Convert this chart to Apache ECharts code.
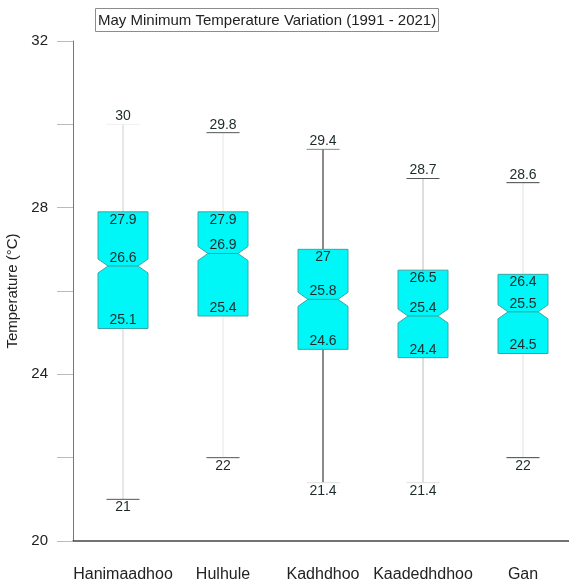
<!DOCTYPE html>
<html>
<head>
<meta charset="utf-8">
<script src="https://cdn.jsdelivr.net/npm/echarts@6/dist/echarts.min.js"></script>
<style>
  html, body { margin: 0; padding: 0; background: #fff; }
  #main { width: 569px; height: 583px; }
</style>
</head>
<body>
<div id="main"></div>
<script>
// stations and five-number summaries (°C)
const stations = ['Hanimaadhoo', 'Hulhule', 'Kadhdhoo', 'Kaadedhdhoo', 'Gan']
const minVals = [21, 22, 21.4, 21.4, 22]
const q1Vals = [25.1, 25.4, 24.6, 24.4, 24.5]
const medVals = [26.6, 26.9, 25.8, 25.4, 25.5]
const q3Vals = [27.9, 27.9, 27, 26.5, 26.4]
const maxVals = [30, 29.8, 29.4, 28.7, 28.6]
const yTicks = [20, 24, 28, 32]

// whisker / cap shades as they appear in the picture
const whiskerColor = ['#cfcfcf', '#e6e6e6', '#8a8a8a', '#bdbdbd', '#e2e2e2']
const whiskerWidth = [1, 1, 2, 1, 1]
const topCapColor = ['#f0f0f0', '#555', '#888', '#555', '#444']
const lowCapColor = ['#555', '#555', '#e0e0e0', '#e0e0e0', '#444']

const labelFont = '14px "Liberation Sans", Arial, sans-serif'
const labelColor = '#1e2a2a'

const boxData = stations.map((s, i) => [i, minVals[i], q1Vals[i], medVals[i], q3Vals[i], maxVals[i]])

function renderBox(params, api) {
  const i = api.value(0)
  const band = api.size([1, 0])[0]
  const x = api.coord([i, 20])[0]
  const yMin = api.coord([i, api.value(1)])[1]
  const yQ1 = api.coord([i, api.value(2)])[1]
  const yMed = api.coord([i, api.value(3)])[1]
  const yQ3 = api.coord([i, api.value(4)])[1]
  const yMax = api.coord([i, api.value(5)])[1]
  const hb = band * 0.25 // half box width
  const hc = band * 0.165 // half cap width
  const nd = 10 // notch depth
  const nh = 7 // notch half height

  const txt = (v, y, va) => ({
    type: 'text',
    style: {
      text: String(v), x: x, y: y, align: 'center', verticalAlign: va,
      font: labelFont, fill: labelColor
    },
    z2: 10
  })

  return {
    type: 'group',
    children: [
      {
        type: 'line',
        shape: { x1: x, y1: yMax, x2: x, y2: yMin },
        style: { stroke: whiskerColor[i], lineWidth: whiskerWidth[i] }
      },
      {
        type: 'line',
        shape: { x1: x - hc, y1: yMax, x2: x + hc, y2: yMax },
        style: { stroke: topCapColor[i], lineWidth: 1 }
      },
      {
        type: 'line',
        shape: { x1: x - hc, y1: yMin, x2: x + hc, y2: yMin },
        style: { stroke: lowCapColor[i], lineWidth: 1 }
      },
      {
        type: 'polygon',
        shape: {
          points: [
            [x - hb, yQ3], [x + hb, yQ3], [x + hb, yMed - nh], [x + hb - nd, yMed],
            [x + hb, yMed + nh], [x + hb, yQ1], [x - hb, yQ1], [x - hb, yMed + nh],
            [x - hb + nd, yMed], [x - hb, yMed - nh]
          ]
        },
        style: { fill: '#00f7f7', stroke: '#3aa7a7', lineWidth: 1 }
      },
      {
        type: 'line',
        shape: { x1: x - hb + nd, y1: yMed, x2: x + hb - nd, y2: yMed },
        style: { stroke: '#3a9c9c', lineWidth: 1 }
      },
      txt(api.value(5), yMax - 1, 'bottom'),
      txt(api.value(1), yMin + 1, 'top'),
      txt(api.value(4), yQ3 + 1, 'top'),
      txt(api.value(3), yMed - 1, 'bottom'),
      txt(api.value(2), yQ1 - 1, 'bottom')
    ]
  }
}

const chart = echarts.init(document.getElementById('main'))
const option = {
  animation: false,
  textStyle: { fontFamily: '"Liberation Sans", Arial, sans-serif' },
  title: {
    text: 'May Minimum Temperature Variation (1991 - 2021)',
    left: 95,
    top: 8,
    padding: [5, 3, 4, 3],
    borderWidth: 1,
    borderColor: '#8c8c8c',
    textStyle: { fontSize: 15, fontWeight: 'normal', color: '#222' }
  },
  grid: { left: 73, width: 500, top: 41, bottom: 42, outerBoundsMode: 'none', containLabel: false },
  xAxis: {
    type: 'category',
    data: stations,
    axisLine: { lineStyle: { color: '#444', width: 1.5 } },
    axisTick: { alignWithLabel: true, length: 17, lineStyle: { color: '#d0d0d0' } },
    axisLabel: { fontSize: 16, color: '#222', margin: 26, interval: 0 },
    splitLine: { show: false }
  },
  yAxis: {
    type: 'value',
    min: 20,
    max: 32,
    interval: 2,
    name: 'Temperature (°C)',
    nameLocation: 'middle',
    nameGap: 45,
    nameTextStyle: { fontSize: 15, color: '#222' },
    axisLine: { show: true, lineStyle: { color: '#777' } },
    axisTick: { show: true, length: 16, lineStyle: { color: '#bbb' } },
    axisLabel: {
      fontSize: 15,
      color: '#222',
      margin: 25,
      formatter: (v) => (yTicks.includes(v) ? String(v) : '')
    },
    splitLine: { show: false }
  },
  series: [
    {
      type: 'custom',
      renderItem: renderBox,
      encode: { x: 0, y: [1, 2, 3, 4, 5] },
      data: boxData,
      clip: false
    }
  ]
}
chart.setOption(option)
</script>
</body>
</html>
